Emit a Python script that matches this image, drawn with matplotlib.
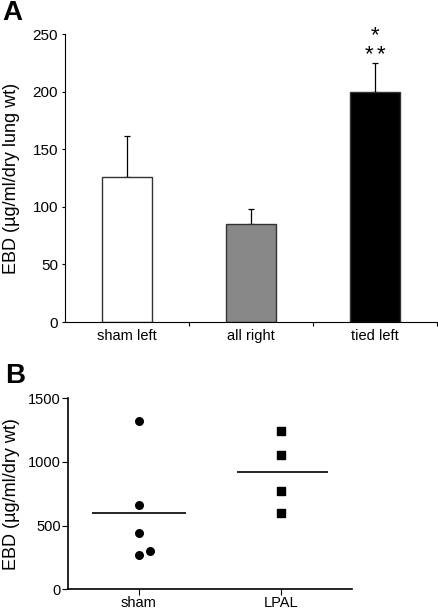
import numpy as np
import matplotlib
matplotlib.use("Agg")
import matplotlib.pyplot as plt

plt.rcParams['font.family'] = ['Liberation Sans', 'DejaVu Sans']

# Panel A data
grupos_a = ['sham left', 'all right', 'tied left']
medias_a = [126, 85, 200]
errores_a = [36, 13, 25]
colores_a = ['white', '#888888', 'black']
ticks_a = [0, 50, 100, 150, 200, 250]

# Panel B data
grupos_b = ['sham', 'LPAL']
sham_y = [1324, 661, 443, 273, 304]
sham_dx = [0, 0, 0, 0, 0.08]
lpal_y = [1240, 1054, 773, 603]
lpal_dx = [0, 0, 0, 0]
media_sham = 603
media_lpal = 918
ticks_b = [0, 500, 1000, 1500]

fig = plt.figure(figsize=(4.38, 6.10), dpi=100)

# ---- Panel A ----
ax1 = fig.add_axes([0.148, 0.472, 0.850, 0.472])
x = np.arange(len(grupos_a))
ax1.bar(x, medias_a, width=0.4, color=colores_a, edgecolor='#333333', linewidth=1, zorder=2)
ax1.errorbar(x, medias_a, yerr=[np.zeros(len(errores_a)), errores_a], fmt='none',
             ecolor='black', elinewidth=0.9, capsize=2.3, capthick=0.9, zorder=1)
ax1.set_xlim(-0.5, 2.5)
ax1.set_ylim(0, 250)
ax1.set_yticks(ticks_a)
ax1.set_xticks([0.5, 1.5, 2.5])
ax1.set_xticklabels([])
ax1.set_xticks(x, minor=True)
ax1.set_xticklabels(grupos_a, minor=True)
ax1.tick_params(axis='x', which='minor', length=0, labelsize=10.5, pad=5)
ax1.tick_params(axis='x', which='major', length=3, direction='out')
ax1.tick_params(axis='y', length=2, direction='out', labelsize=11, pad=3)
ax1.spines['top'].set_visible(False)
ax1.spines['right'].set_visible(False)
ax1.set_ylabel('EBD (µg/ml/dry lung wt)', fontsize=13)
ax1.yaxis.set_label_coords(-0.121, 0.5)

# asteriscos de significancia
ax1.text(2, 244, '*', ha='center', va='baseline', fontsize=16, clip_on=False)
ax1.text(2 - 0.051, 227, '*', ha='center', va='baseline', fontsize=16, clip_on=False)
ax1.text(2 + 0.051, 227, '*', ha='center', va='baseline', fontsize=16, clip_on=False)
fig.text(0.006, 0.967, 'A', fontsize=20, fontweight='bold', va='baseline', ha='left')

# ---- Panel B ----
ax2 = fig.add_axes([0.155, 0.034, 0.649, 0.313])
ax2.scatter(np.array(sham_dx) + 0, sham_y, marker='o', s=30, color='black', zorder=3)
ax2.scatter(np.array(lpal_dx) + 1, lpal_y, marker='s', s=26, color='black', zorder=3)
ax2.hlines([media_sham, media_lpal], [-0.33, 0.69], [0.33, 1.33], colors='black', linewidth=1.2)
ax2.set_xlim(-0.5, 1.5)
ax2.set_ylim(0, 1500)
ax2.set_yticks(ticks_b)
ax2.set_xticks([0, 1])
ax2.set_xticklabels(grupos_b)
ax2.tick_params(axis='both', length=4, direction='out', labelsize=10.5, pad=1)
ax2.spines['top'].set_visible(False)
ax2.spines['right'].set_visible(False)
ax2.spines['left'].set_linewidth(1.2)
ax2.spines['bottom'].set_linewidth(1.2)
ax2.set_ylabel('EBD (µg/ml/dry wt)', fontsize=13)
ax2.yaxis.set_label_coords(-0.17, 0.5)
fig.text(0.012, 0.372, 'B', fontsize=20, fontweight='bold', va='baseline', ha='left')

fig.savefig('out.png', dpi=100)
